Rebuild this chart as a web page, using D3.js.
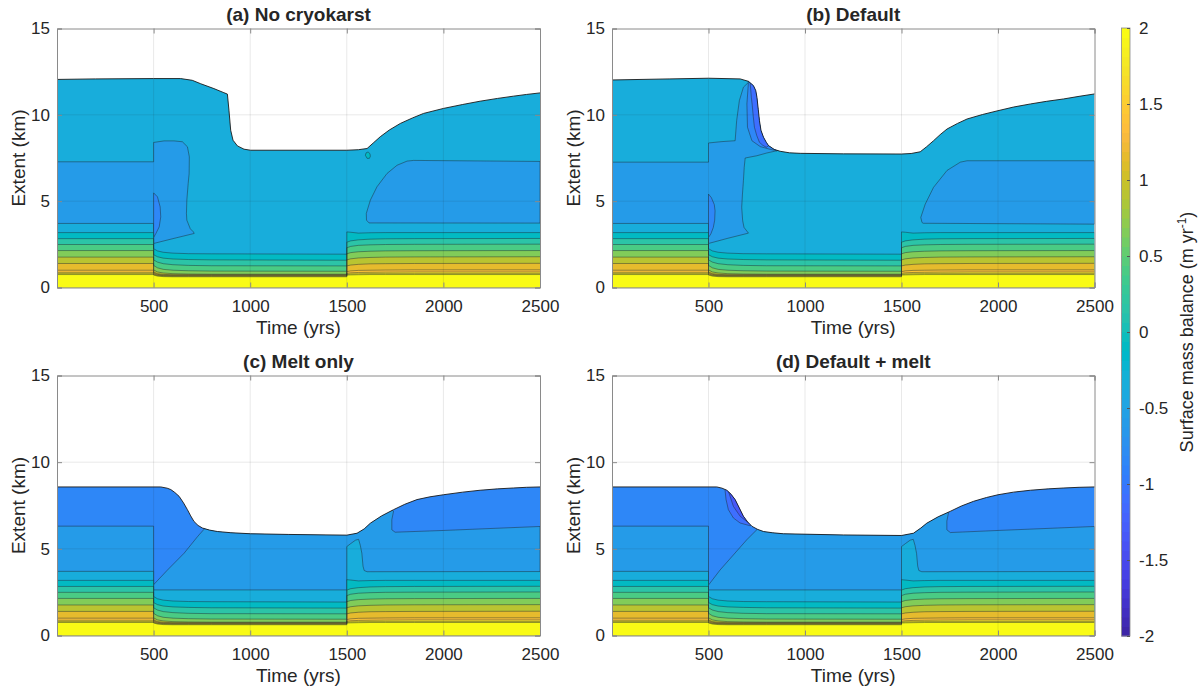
<!DOCTYPE html>
<html><head><meta charset="utf-8">
<script src="https://cdn.jsdelivr.net/npm/d3@7"></script>
<style>
body{margin:0;background:#fff;}
svg text{font-family:"Liberation Sans",Arial,Helvetica,sans-serif;fill:#262626;}
</style></head><body>
<svg id="chart" width="1202" height="691"></svg>
<script>
// ---------------- data ----------------
// Contour levels of surface mass balance (m/yr) in the lower glacier stack
const levels = [-0.25, 0, 0.25, 0.5, 0.75, 1.0, 1.25, 1.5, 1.75, 2.0];
const levelStep = 0.25;
// Height (km) of each level before the step change at 500 yrs
const stackPre = [3.18, 2.83, 2.49, 2.14, 1.76, 1.39, 1.0, 0.88, 0.80, 0.75];
// Heights during 500-1500 yrs
const warmTimes = [500, 520, 550, 600, 680, 800, 1500];
const stackWarm = [
  [2.25, 2.12, 2.04, 1.99, 1.96, 1.95, 1.93],
  [1.90, 1.78, 1.70, 1.65, 1.62, 1.60, 1.58],
  [1.60, 1.47, 1.38, 1.32, 1.28, 1.26, 1.25],
  [1.28, 1.14, 1.05, 1.00, 0.97, 0.95, 0.94],
  [1.02, 0.90, 0.84, 0.80, 0.78, 0.77, 0.77],
  [0.90, 0.80, 0.76, 0.74, 0.74, 0.74, 0.74],
  [0.84, 0.76, 0.72, 0.71, 0.71, 0.71, 0.71],
  [0.79, 0.72, 0.69, 0.68, 0.68, 0.68, 0.68],
  [0.75, 0.69, 0.66, 0.65, 0.65, 0.65, 0.65],
  [0.72, 0.66, 0.63, 0.62, 0.62, 0.62, 0.62]
];
// Heights after 1500 yrs
const coolTimes = [1500, 1520, 1560, 1620, 1700, 1850, 2500];
const stackCool = [
  [3.22, 3.20, 3.15, 3.17, 3.18, 3.18, 3.18],
  [2.62, 2.70, 2.76, 2.80, 2.82, 2.83, 2.84],
  [2.30, 2.38, 2.44, 2.47, 2.49, 2.50, 2.51],
  [1.95, 2.02, 2.07, 2.10, 2.12, 2.13, 2.14],
  [1.60, 1.66, 1.71, 1.74, 1.76, 1.77, 1.78],
  [1.25, 1.30, 1.34, 1.37, 1.38, 1.39, 1.40],
  [0.92, 0.96, 0.99, 1.00, 1.01, 1.02, 1.02],
  [0.82, 0.85, 0.87, 0.88, 0.89, 0.90, 0.90],
  [0.76, 0.78, 0.79, 0.80, 0.80, 0.80, 0.80],
  [0.72, 0.73, 0.74, 0.75, 0.75, 0.75, 0.75]
];

// Glacier extent (time yrs, km)
const extentA = [[0,12.05],[200,12.08],[500,12.1],[640,12.1],[700,12.0],[744,11.8],[812,11.52],[860,11.3],[882,11.2],[890,10.27],[899,9.11],[911,8.53],[934,8.2],[968,8.01],[1002,7.95],[1500,7.95],[1560,7.98],[1605,8.05],[1640,8.4],[1673,8.73],[1720,9.12],[1777,9.5],[1840,9.82],[1897,10.08],[2000,10.37],[2100,10.6],[2190,10.79],[2280,10.95],[2362,11.08],[2430,11.18],[2500,11.27]];
const extentB = [[0,12.02],[300,12.08],[500,12.12],[664,12.08],[707,11.94],[733,11.69],[745,11.4],[751,11.02],[758,10.3],[764,9.67],[772,9.1],[785,8.7],[800,8.4],[811,8.22],[840,8.0],[871,7.89],[920,7.8],[975,7.77],[1200,7.74],[1500,7.73],[1550,7.76],[1597,7.86],[1630,8.15],[1666,8.5],[1700,8.85],[1736,9.18],[1790,9.5],[1840,9.76],[1920,10.02],[2000,10.24],[2080,10.45],[2168,10.63],[2250,10.78],[2340,10.92],[2420,11.07],[2500,11.21]];
const extentC = [[0,8.57],[537,8.57],[570,8.5],[589,8.42],[610,8.25],[632,8.03],[655,7.65],[675,7.26],[692,6.9],[709,6.58],[730,6.35],[753,6.2],[790,6.08],[830,6.0],[900,5.93],[1002,5.87],[1200,5.83],[1500,5.79],[1553,5.9],[1590,6.15],[1622,6.48],[1680,6.9],[1742,7.26],[1800,7.57],[1863,7.84],[1930,8.0],[2000,8.12],[2100,8.27],[2190,8.38],[2280,8.46],[2362,8.51],[2430,8.55],[2500,8.57]];
const extentD = [[0,8.57],[543,8.57],[570,8.5],[595,8.38],[617,8.15],[638,7.84],[660,7.35],[681,6.88],[703,6.55],[725,6.3],[755,6.12],[785,6.0],[830,5.93],[888,5.87],[1200,5.8],[1500,5.77],[1562,5.9],[1600,6.2],[1631,6.48],[1690,6.85],[1752,7.16],[1810,7.47],[1873,7.74],[1940,7.96],[2000,8.12],[2080,8.27],[2168,8.38],[2260,8.46],[2341,8.51],[2420,8.55],[2500,8.57]];

// Closed contour regions (time yrs, km)
const midBlueA = [[0,3.71],[500,3.71],[500,2.55],[600,2.83],[710,3.13],[706,3.22],[690,3.4],[672,3.9],[670,4.29],[672,5.06],[679,6.02],[684,6.6],[685,7.57],[675,8.15],[649,8.44],[606,8.49],[554,8.49],[500,8.4],[500,7.28],[0,7.28]];
const blobA = [[500,5.48],[520,5.25],[534,4.67],[537,4.09],[529,3.51],[512,3.13],[500,2.9]];
const cellA = [[1596,7.66],[1600,7.8],[1610,7.85],[1620,7.75],[1622,7.6],[1617,7.48],[1605,7.48]];
const lateBlueA = [[1615,3.74],[2500,3.73],[2500,7.3],[1846,7.36],[1812,7.32],[1760,7.08],[1708,6.6],[1656,5.83],[1622,5.06],[1601,4.29],[1602,3.9]];

const midBlueB = [[0,3.71],[500,3.71],[500,2.55],[600,2.85],[707,3.15],[684,3.48],[677,3.87],[672,4.64],[676,5.41],[681,6.19],[685,6.96],[690,7.5],[750,7.63],[802,7.79],[854,7.92],[950,8.5],[950,12.6],[707,12.6],[707,11.88],[681,11.6],[660,10.83],[646,9.67],[638,8.5],[570,8.45],[500,8.37],[500,7.26],[0,7.26]];
const blueB1 = [[707,11.88],[699,10.63],[702,9.28],[725,8.5],[768,8.16],[820,8.0],[854,7.92],[950,8.5],[950,12.6],[707,12.6]];
const blueB2 = [[716,11.83],[722,11.0],[726,10.63],[732,9.9],[738,9.28],[750,8.8],[764,8.41],[780,8.25],[799,8.12],[850,8.5],[850,12.6],[716,12.6]];
const blobB = [[500,5.41],[515,5.2],[530,4.8],[534,4.44],[532,3.9],[525,3.48],[512,3.1],[500,2.9]];
const lateBlueB = [[1612,3.72],[2500,3.67],[2500,7.34],[1840,7.34],[1805,7.26],[1736,6.78],[1666,5.8],[1623,4.83],[1600,4.06],[1606,3.77]];

const midBlueC = [[0,6.31],[500,6.31],[500,2.93],[572,3.78],[658,4.75],[727,5.7],[761,6.13],[800,7.5],[1700,7.5],[1742,7.17],[1733,6.68],[1733,6.1],[1750,5.96],[2000,6.06],[2500,6.29],[2500,0],[0,0]];
const midBlueD = [[0,6.31],[500,6.31],[500,2.91],[560,3.78],[629,4.65],[698,5.52],[750,6.1],[800,7.5],[1700,7.5],[1744,7.1],[1735,6.6],[1735,6.1],[1753,5.94],[2000,6.06],[2500,6.29],[2500,0],[0,0]];
const sliverD1 = [[586,8.36],[591,7.84],[603,7.26],[629,6.78],[664,6.49],[716,6.33],[760,6.6],[700,9],[586,9]];
const sliverD2 = [[595,8.5],[603,8.32],[629,7.45],[664,6.88],[707,6.5],[740,6.6],[700,9],[595,9]];
// -0.5 m/yr contour spanning the whole record in the melt runs
const halfLineCD = [[0,3.70],[500,3.70],[500,2.63],[1500,2.63],[1500,5.13],[1520,5.3],[1545,5.5],[1561,5.55],[1570,5.2],[1578,4.74],[1584,4.0],[1590,3.75],[1605,3.68],[2500,3.69]];

const xTicks = [500, 1000, 1500, 2000, 2500];
const yTicks = [0, 5, 10, 15];
const cbTicks = [-2, -1.5, -1, -0.5, 0, 0.5, 1, 1.5, 2];

// MATLAB parula colormap, 64 entries
const parula = [[0.2422,0.1504,0.6603],[0.2504,0.1650,0.7076],[0.2578,0.1818,0.7511],[0.2647,0.1978,0.7952],[0.2706,0.2147,0.8364],[0.2751,0.2342,0.8710],[0.2783,0.2559,0.8991],[0.2803,0.2782,0.9221],[0.2813,0.3006,0.9414],[0.2810,0.3228,0.9579],[0.2795,0.3447,0.9717],[0.2760,0.3667,0.9829],[0.2699,0.3892,0.9906],[0.2602,0.4123,0.9952],[0.2440,0.4358,0.9988],[0.2206,0.4603,0.9973],[0.1963,0.4847,0.9892],[0.1834,0.5074,0.9798],[0.1786,0.5289,0.9682],[0.1764,0.5499,0.9520],[0.1687,0.5703,0.9359],[0.1540,0.5902,0.9218],[0.1460,0.6091,0.9079],[0.1380,0.6276,0.8973],[0.1248,0.6459,0.8883],[0.1113,0.6635,0.8763],[0.0952,0.6798,0.8598],[0.0689,0.6948,0.8394],[0.0297,0.7082,0.8163],[0.0036,0.7203,0.7917],[0.0067,0.7312,0.7660],[0.0433,0.7411,0.7394],[0.0964,0.7500,0.7120],[0.1408,0.7584,0.6842],[0.1717,0.7670,0.6554],[0.1938,0.7758,0.6251],[0.2161,0.7843,0.5923],[0.2470,0.7918,0.5567],[0.2906,0.7973,0.5188],[0.3406,0.8008,0.4789],[0.3909,0.8029,0.4354],[0.4456,0.8024,0.3909],[0.5044,0.7993,0.3480],[0.5616,0.7942,0.3045],[0.6174,0.7876,0.2612],[0.6720,0.7793,0.2227],[0.7242,0.7698,0.1910],[0.7738,0.7598,0.1646],[0.8203,0.7498,0.1535],[0.8634,0.7406,0.1596],[0.9035,0.7330,0.1774],[0.9393,0.7288,0.2100],[0.9728,0.7298,0.2394],[0.9956,0.7434,0.2371],[0.9970,0.7659,0.2199],[0.9952,0.7893,0.2028],[0.9892,0.8136,0.1885],[0.9786,0.8386,0.1766],[0.9676,0.8639,0.1643],[0.9610,0.8890,0.1537],[0.9597,0.9135,0.1423],[0.9628,0.9373,0.1265],[0.9691,0.9606,0.1064],[0.9769,0.9839,0.0805]];
const parulaHex = parula.map(c => d3.rgb(c[0]*255, c[1]*255, c[2]*255).formatHex());
const color = d3.scaleQuantize().domain([-2, 2]).range(parulaHex);
// each filled band takes the colour of its mid value
const bandColor = lev => color(lev + levelStep / 2);

// ---------------- layout ----------------
const panels = [
  {id:"a", title:"(a) No cryokarst", x0:57, x1:540, top:28.5, bottom:287.5, extent:extentA, base:-0.5,
   shapes:[[midBlueA,-0.75],[blobA,-1.0],[cellA,-0.25],[lateBlueA,-0.75]], half:null},
  {id:"b", title:"(b) Default", x0:612, x1:1094.5, top:28.5, bottom:287.5, extent:extentB, base:-0.5,
   shapes:[[midBlueB,-0.75],[blueB1,-1.0],[blueB2,-1.25],[blobB,-1.0],[lateBlueB,-0.75]], half:null},
  {id:"c", title:"(c) Melt only", x0:57, x1:540, top:375.5, bottom:635.5, extent:extentC, base:-1.0,
   shapes:[[midBlueC,-0.75]], half:halfLineCD},
  {id:"d", title:"(d) Default + melt", x0:612, x1:1094.5, top:375.5, bottom:635.5, extent:extentD, base:-1.0,
   shapes:[[midBlueD,-0.75],[sliverD1,-1.25],[sliverD2,-1.5]], half:halfLineCD}
];

const svg = d3.select("#chart");
const defs = svg.append("defs");
const contourStroke = "#1e2a33";

function stackLine(i) {
  return [[0, stackPre[i]], [500, stackPre[i]]]
    .concat(warmTimes.map((t, j) => [t, stackWarm[i][j]]))
    .concat(coolTimes.map((t, j) => [t, stackCool[i][j]]));
}

panels.forEach(p => {
  const x = d3.scaleLinear().domain([0, 2500]).range([p.x0, p.x1]);
  const y = d3.scaleLinear().domain([0, 15]).range([p.bottom, p.top]);
  const line = d3.line().x(d => x(d[0])).y(d => y(d[1]));
  const area = d3.area().x(d => x(d[0])).y0(y(0)).y1(d => y(d[1]));
  const g = svg.append("g");

  defs.append("clipPath").attr("id", "clip-" + p.id)
    .append("path").attr("d", area(p.extent));

  const fills = g.append("g").attr("clip-path", `url(#clip-${p.id})`);
  fills.append("rect").attr("x", p.x0).attr("y", p.top)
    .attr("width", p.x1 - p.x0).attr("height", p.bottom - p.top)
    .attr("fill", bandColor(p.base));

  p.shapes.forEach(([ring, lev]) => {
    fills.append("path").attr("d", line(ring) + "Z")
      .attr("fill", bandColor(lev))
      .attr("stroke", contourStroke).attr("stroke-width", 0.6).attr("stroke-opacity", 0.8)
      .attr("stroke-linejoin", "round");
  });

  if (p.half) {
    fills.append("path").attr("d", area(p.half)).attr("fill", bandColor(-0.5));
    fills.append("path").attr("d", line(p.half)).attr("fill", "none")
      .attr("stroke", contourStroke).attr("stroke-width", 0.6).attr("stroke-opacity", 0.8);
  }

  levels.forEach((lev, i) => {
    fills.append("path").attr("d", area(stackLine(i))).attr("fill", bandColor(lev));
  });
  levels.forEach((lev, i) => {
    fills.append("path").attr("d", line(stackLine(i))).attr("fill", "none")
      .attr("stroke", contourStroke).attr("stroke-width", 0.6).attr("stroke-opacity", 0.75);
  });

  // glacier outline
  g.append("path").attr("d", line(p.extent)).attr("fill", "none")
    .attr("stroke", "#1a1a1a").attr("stroke-width", 0.9);

  // grid
  const grid = g.append("g").attr("stroke", "#262626").attr("stroke-opacity", 0.13).attr("stroke-width", 0.8);
  xTicks.filter(t => t < 2500).forEach(t => {
    grid.append("line").attr("x1", x(t)).attr("x2", x(t)).attr("y1", p.top).attr("y2", p.bottom);
  });
  yTicks.filter(v => v > 0 && v < 15).forEach(v => {
    grid.append("line").attr("x1", p.x0).attr("x2", p.x1).attr("y1", y(v)).attr("y2", y(v));
  });

  // axes with inward ticks
  const ax = d3.axisBottom(x).tickValues(xTicks).tickSize(-5).tickPadding(12).tickFormat(d => String(d));
  const ay = d3.axisLeft(y).tickValues(yTicks).tickSize(-5).tickPadding(7).tickFormat(d => String(d));
  const gx = g.append("g").attr("transform", `translate(0,${p.bottom})`).call(ax);
  const gy = g.append("g").attr("transform", `translate(${p.x0},0)`).call(ay);
  const gxt = g.append("g").attr("transform", `translate(0,${p.top})`)
    .call(d3.axisTop(x).tickValues(xTicks).tickSize(-5).tickFormat(""));
  const gyr = g.append("g").attr("transform", `translate(${p.x1},0)`)
    .call(d3.axisRight(y).tickValues(yTicks).tickSize(-5).tickFormat(""));
  [gx, gy, gxt, gyr].forEach(a => {
    a.select(".domain").attr("stroke", "#8a8a8a").attr("stroke-width", 1);
    a.selectAll(".tick line").attr("stroke", "#8a8a8a");
    a.selectAll("text").attr("font-size", 17).attr("fill", "#262626")
      .style("font-family", '"Liberation Sans", Arial, sans-serif');
  });

  // titles and labels
  g.append("text").attr("x", (p.x0 + p.x1) / 2).attr("y", p.top - 8)
    .attr("text-anchor", "middle").attr("font-size", 19).attr("font-weight", "bold")
    .attr("fill", "#000").text(p.title);
  g.append("text").attr("x", (p.x0 + p.x1) / 2).attr("y", p.bottom + 46)
    .attr("text-anchor", "middle").attr("font-size", 19).text("Time (yrs)");
  g.append("text")
    .attr("transform", `translate(${p.x0 - 32},${(p.top + p.bottom) / 2}) rotate(-90)`)
    .attr("text-anchor", "middle").attr("font-size", 19).text("Extent (km)");
});

// ---------------- colorbar ----------------
const cb = {x:1121.5, w:8.5, top:28, bottom:636};
const cy = d3.scaleLinear().domain([-2, 2]).range([cb.bottom, cb.top]);
const cbg = svg.append("g");
const step = 4 / parulaHex.length;
parulaHex.forEach((c, i) => {
  const v0 = -2 + i * step;
  cbg.append("rect").attr("x", cb.x).attr("width", cb.w)
    .attr("y", cy(v0 + step)).attr("height", cy(v0) - cy(v0 + step) + 0.5)
    .attr("fill", c);
});
cbg.append("rect").attr("x", cb.x).attr("y", cb.top).attr("width", cb.w)
  .attr("height", cb.bottom - cb.top).attr("fill", "none").attr("stroke", "#8a8a8a").attr("stroke-width", 0.8);
const cax = d3.axisRight(cy).tickValues(cbTicks).tickSize(-3).tickPadding(9).tickFormat(d => String(d));
const cag = cbg.append("g").attr("transform", `translate(${cb.x + cb.w},0)`).call(cax);
cag.select(".domain").remove();
cag.selectAll(".tick line").attr("stroke", "#555");
cag.selectAll("text").attr("font-size", 17).attr("fill", "#262626")
  .style("font-family", '"Liberation Sans", Arial, sans-serif');

const cbLabel = cbg.append("text")
  .attr("transform", `translate(1193,${(cb.top + cb.bottom) / 2}) rotate(-90)`)
  .attr("text-anchor", "middle").attr("font-size", 18);
cbLabel.append("tspan").text("Surface mass balance (m yr");
cbLabel.append("tspan").attr("font-size", 12).attr("dy", -7).text("-1");
cbLabel.append("tspan").attr("dy", 7).text(")");
</script>
</body></html>
